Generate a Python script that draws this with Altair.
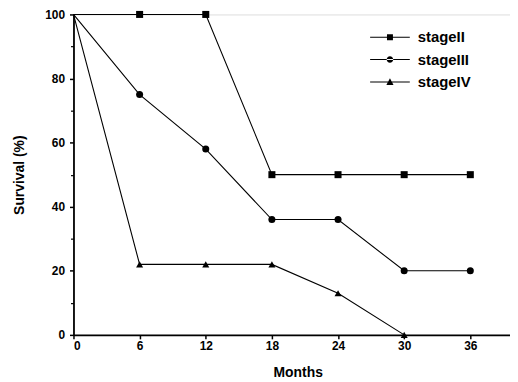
import altair as alt
import pandas as pd

# ---- data ----
stages = ["stageII", "stageIII", "stageIV"]
months_ii = [0, 6, 12, 18, 24, 30, 36]
surv_ii = [100, 100, 100, 50, 50, 50, 50]
months_iii = [0, 6, 12, 18, 24, 30, 36]
surv_iii = [100, 75, 58, 36, 36, 20, 20]
months_iv = [0, 6, 12, 18, 24, 30]
surv_iv = [100, 22, 22, 22, 13, 0]
x_ticks = [0, 6, 12, 18, 24, 30, 36]
y_ticks = [0, 20, 40, 60, 80, 100]
y_minor = [10, 30, 50, 70, 90]

rows = []
for st, ms, vs in [("stageII", months_ii, surv_ii),
                   ("stageIII", months_iii, surv_iii),
                   ("stageIV", months_iv, surv_iv)]:
    for m, v in zip(ms, vs):
        rows.append({"month": m, "survival": v, "stage": st})
df = pd.DataFrame(rows)

FONT = "Liberation Sans"
xscale = alt.Scale(domain=[0, 39.6], nice=False, zero=False)
yscale = alt.Scale(domain=[0, 100], nice=False)

x_enc = alt.X("month:Q", scale=xscale,
              axis=alt.Axis(values=x_ticks, title="Months", grid=False,
                            tickSize=4, tickWidth=1.5, domainWidth=1.8,
                            domainColor="black", tickColor="black",
                            labelFont=FONT, labelFontSize=12, labelFontWeight="bold",
                            labelColor="black", labelPadding=2,
                            titleFont=FONT, titleFontSize=14, titleFontWeight="bold",
                            titleColor="black", titlePadding=14, titleX=226))
y_enc = alt.Y("survival:Q", scale=yscale,
              axis=alt.Axis(values=y_ticks, title="Survival (%)", grid=False,
                            tickSize=4, tickWidth=1.5, domainWidth=1.8,
                            domainColor="black", tickColor="black",
                            labelFont=FONT, labelFontSize=12, labelFontWeight="bold",
                            labelColor="black", labelPadding=5,
                            titleFont=FONT, titleFontSize=14, titleFontWeight="bold",
                            titleColor="black", titlePadding=18))
y_plain = alt.Y("survival:Q", scale=yscale, axis=None)

lines = alt.Chart(df).mark_line(color="black", strokeWidth=1.1).encode(
    x=x_enc, y=y_enc, detail="stage:N")

points = alt.Chart(df).transform_filter("datum.month > 0").mark_point(
    filled=True, color="black", size=50, opacity=1).encode(
    x=x_enc, y=y_plain,
    shape=alt.Shape("stage:N",
                    scale=alt.Scale(domain=stages, range=["square", "circle", "triangle-up"]),
                    legend=None))

legend_paths = [
    "M-2,-0.05H2V0.05H-2ZM-0.3,-0.3H0.3V0.3H-0.3Z",
    "M-2,-0.05H2V0.05H-2ZM-0.33,0A0.33,0.33 0 1,0 0.33,0A0.33,0.33 0 1,0 -0.33,0Z",
    "M-2,-0.05H2V0.05H-2ZM-0.36,0.3L0,-0.36L0.36,0.3Z",
]
legend_layer = alt.Chart(df).transform_filter("false").mark_point(
    filled=True, color="black").encode(
    x=x_enc, y=y_plain,
    shape=alt.Shape("stage:N",
                    scale=alt.Scale(domain=stages, range=legend_paths),
                    legend=alt.Legend(title=None, orient="none", legendX=309, legendY=13,
                                      symbolSize=400, symbolFillColor="black",
                                      symbolStrokeColor="black", symbolStrokeWidth=0,
                                      symbolOpacity=1, labelOffset=18, rowPadding=4.5,
                                      padding=0, labelFont=FONT, labelFontSize=15,
                                      labelFontWeight="bold", labelColor="black")))

minor = alt.Chart(df).transform_filter("false").mark_point().encode(
    y=alt.Y("survival:Q", scale=yscale,
            axis=alt.Axis(orient="left", values=y_minor, labels=False, domain=False,
                          tickSize=3, tickWidth=1.2, tickColor="black", title=None,
                          grid=False)))

chart = alt.layer(lines, points, legend_layer, minor).resolve_scale(
    shape="independent").resolve_legend(shape="independent").resolve_axis(
    y="independent").properties(
    width=440, height=323,
    autosize=alt.AutoSizeParams(type="none"),
    padding={"left": 66, "top": 5, "right": 0, "bottom": 46},
).configure_view(stroke=None).configure(background="white")

chart.save("out.html", embed_options={"renderer": "svg", "actions": False})
